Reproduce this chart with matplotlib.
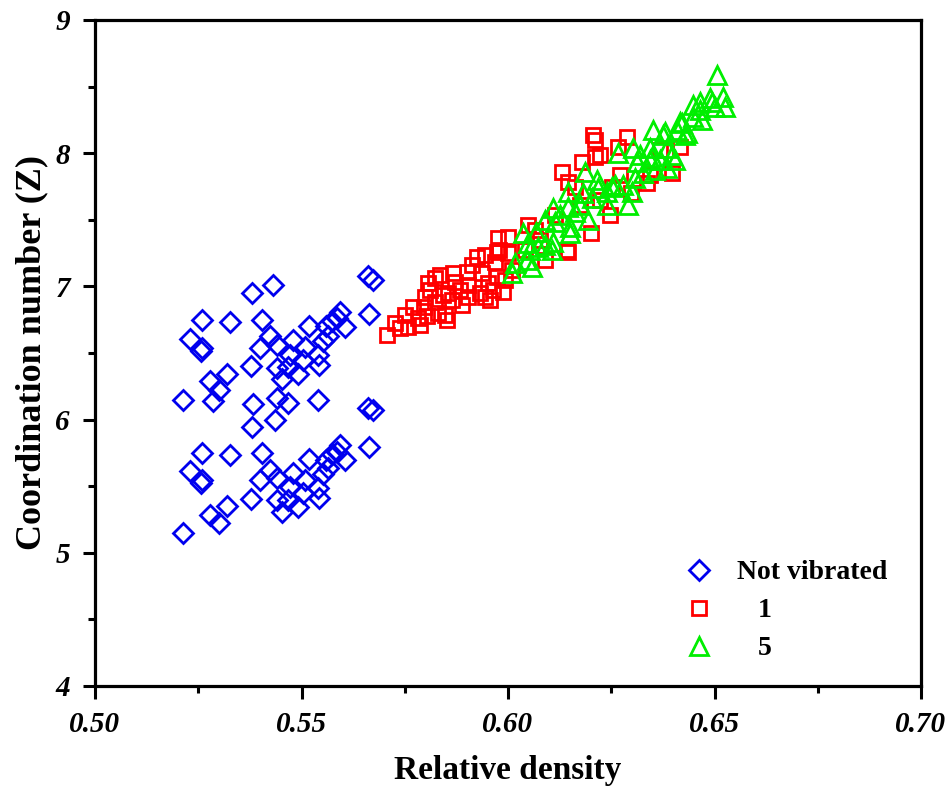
import matplotlib
matplotlib.use("Agg")
import matplotlib.pyplot as plt
from matplotlib.ticker import MultipleLocator

# ---- data: Not vibrated ----
nv_density = [0.5379, 0.5432, 0.5258, 0.5327, 0.5404, 0.5230, 0.5258, 0.5256, 0.5400, 0.5424,
              0.5378, 0.5278, 0.5320, 0.5301, 0.5214, 0.5285, 0.5383, 0.5440, 0.5662, 0.5672,
              0.5664, 0.5593, 0.5585, 0.5605, 0.5519, 0.5565, 0.5551, 0.5480, 0.5508, 0.5440,
              0.5472, 0.5541, 0.5543, 0.5504, 0.5468, 0.5492, 0.5452, 0.5541, 0.5468, 0.5440,
              0.5662, 0.5674, 0.5575, 0.5560,
              0.5379, 0.5436, 0.5258, 0.5327, 0.5404, 0.5230, 0.5258, 0.5256, 0.5400, 0.5424,
              0.5378, 0.5278, 0.5320, 0.5301, 0.5214, 0.5440, 0.5664, 0.5593, 0.5585, 0.5605,
              0.5519, 0.5565, 0.5551, 0.5480, 0.5508, 0.5440, 0.5472, 0.5541, 0.5543, 0.5504,
              0.5468, 0.5492, 0.5452, 0.5575, 0.5560]
nv_z = [6.950, 7.008, 6.750, 6.733, 6.750, 6.607, 6.538, 6.513, 6.538, 6.628,
        6.400, 6.288, 6.342, 6.224, 6.145, 6.137, 6.117, 6.387, 7.076, 7.050,
        6.793, 6.808, 6.763, 6.693, 6.700, 6.625, 6.588, 6.600, 6.543, 6.558,
        6.487, 6.483, 6.408, 6.450, 6.393, 6.342, 6.307, 6.149, 6.125, 6.162,
        6.087, 6.075, 6.740, 6.700,
        5.947, 5.997, 5.752, 5.734, 5.747, 5.616, 5.547, 5.522, 5.547, 5.622,
        5.402, 5.284, 5.351, 5.226, 5.146, 5.396, 5.797, 5.809, 5.759, 5.697,
        5.702, 5.634, 5.592, 5.601, 5.547, 5.559, 5.492, 5.484, 5.409, 5.451,
        5.396, 5.346, 5.309, 5.740, 5.700]

# ---- data: 1 vibration ----
v1_density = [0.5706, 0.5726, 0.5759, 0.5787, 0.5771, 0.5797, 0.5799, 0.5807, 0.5823, 0.5831,
              0.5847, 0.5852, 0.5835, 0.5855, 0.5872, 0.5868, 0.5900, 0.5904, 0.5904, 0.5924,
              0.5936, 0.5932, 0.5944, 0.5964, 0.5989, 0.5969, 0.5973, 0.5975, 0.6001, 0.5973,
              0.5823, 0.6207, 0.6211, 0.6287, 0.6267, 0.6211, 0.6178, 0.6130, 0.6146, 0.6271,
              0.6251, 0.6162, 0.6049, 0.5977, 0.6202, 0.6146, 0.6299, 0.6336, 0.6396, 0.6416,
              0.5751, 0.5782, 0.5811, 0.5864, 0.5884, 0.5889, 0.5913, 0.5952, 0.5993, 0.5956,
              0.5944, 0.5843, 0.5804, 0.5738, 0.6077, 0.6114, 0.6174, 0.6223, 0.6247, 0.6090,
              0.6041, 0.6065, 0.6223, 0.6142, 0.6001, 0.6010, 0.6344, 0.6368]
v1_z = [6.635, 6.723, 6.697, 6.710, 6.848, 6.848, 6.923, 7.023, 6.881, 6.798,
        6.785, 6.748, 7.086, 6.948, 7.035, 7.098, 7.110, 7.011, 6.923, 7.223,
        7.098, 6.948, 6.923, 6.973, 6.960, 7.185, 7.261, 7.366, 7.373, 7.073,
        7.061, 8.137, 8.099, 8.124, 8.049, 7.974, 7.936, 7.861, 7.786, 7.836,
        7.748, 7.748, 7.461, 7.273, 7.399, 7.261, 7.699, 7.774, 7.849, 8.049,
        6.785, 6.763, 6.973, 6.898, 6.973, 6.860, 7.161, 7.026, 7.048, 6.898,
        7.236, 6.935, 6.778, 6.688, 7.348, 7.536, 7.611, 7.649, 7.536, 7.198,
        7.273, 7.423, 7.986, 7.273, 7.249, 7.123, 7.836, 8.024]

# ---- data: 5 vibrations ----
v5_density = [0.6505, 0.6521, 0.6525, 0.6489, 0.6465, 0.6449, 0.6501, 0.6469, 0.6449, 0.6408,
              0.6421, 0.6380, 0.6352, 0.6429, 0.6384, 0.6344, 0.6303, 0.6267, 0.6312, 0.6344,
              0.6404, 0.6384, 0.6356, 0.6328, 0.6308, 0.6279, 0.6300, 0.6251, 0.6291, 0.6239,
              0.6186, 0.6215, 0.6146, 0.6182, 0.6203, 0.6239, 0.6110, 0.6146, 0.6174, 0.6114,
              0.6150, 0.6194, 0.6090, 0.6150, 0.6037, 0.6069, 0.6049, 0.6110, 0.6073, 0.6106,
              0.6017, 0.6045, 0.6057, 0.6009, 0.6368, 0.6396, 0.6348, 0.6259, 0.6493, 0.6416,
              0.6433, 0.6376, 0.6465, 0.6090, 0.6053, 0.6126, 0.6162, 0.6218, 0.6320]
v5_z = [8.587, 8.424, 8.349, 8.412, 8.387, 8.362, 8.349, 8.249, 8.274, 8.174,
        8.224, 8.161, 8.174, 8.137, 8.037, 8.037, 8.037, 7.999, 7.936, 7.949,
        7.949, 7.887, 7.874, 7.849, 7.812, 7.761, 7.711, 7.749, 7.611, 7.611,
        7.861, 7.799, 7.711, 7.699, 7.661, 7.711, 7.586, 7.598, 7.611, 7.486,
        7.448, 7.498, 7.498, 7.399, 7.399, 7.411, 7.324, 7.336, 7.298, 7.273,
        7.173, 7.198, 7.148, 7.098, 7.949, 7.986, 7.974, 7.761, 8.387, 8.236,
        8.149, 8.137, 8.324, 7.311, 7.273, 7.536, 7.559, 7.739, 7.986]

labels = ["Not vibrated", "   1", "   5"]

serif = ["Liberation Serif", "DejaVu Serif"]

fig = plt.figure(figsize=(9.53, 8.02), dpi=100)
ax = fig.add_axes([95 / 953, 1 - 686 / 802, (921 - 95) / 953, (686 - 20) / 802])

ax.plot(nv_density, nv_z, linestyle="none", marker="D", markersize=10.5,
        markerfacecolor="none", markeredgecolor="#0000ee", markeredgewidth=2.0, label=labels[0])
ax.plot(v1_density, v1_z, linestyle="none", marker="s", markersize=9.5,
        markerfacecolor="none", markeredgecolor="#ff0000", markeredgewidth=2.0, label=labels[1])
ax.plot(v5_density, v5_z, linestyle="none", marker="^", markersize=12.5,
        markerfacecolor="none", markeredgecolor="#00ee00", markeredgewidth=2.0, label=labels[2])

ax.set_xlim(0.50, 0.70)
ax.set_ylim(4, 9)
ax.xaxis.set_major_locator(MultipleLocator(0.05))
ax.xaxis.set_minor_locator(MultipleLocator(0.025))
ax.yaxis.set_major_locator(MultipleLocator(1))
ax.yaxis.set_minor_locator(MultipleLocator(0.5))

for s in ax.spines.values():
    s.set_linewidth(2.3)
ax.tick_params(which="major", direction="out", length=9, width=2.2, pad=9)
ax.tick_params(which="minor", direction="out", length=5, width=2.2)

ax.xaxis.set_major_formatter(plt.FuncFormatter(lambda v, p: f"{v:.2f}"))
ax.yaxis.set_major_formatter(plt.FuncFormatter(lambda v, p: f"{v:.0f}"))
for lab in ax.get_xticklabels() + ax.get_yticklabels():
    lab.set_family(serif)
    lab.set_fontweight("bold")
    lab.set_fontstyle("italic")
    lab.set_fontsize(21)

ax.set_xlabel("Relative density", family=serif, fontweight="bold", fontsize=24, labelpad=12)
ax.set_ylabel("Coordination number (Z)", family=serif, fontweight="bold", fontsize=26, labelpad=5)

leg = ax.legend(loc="upper left", bbox_to_anchor=(0.693, 0.21), frameon=False,
                prop={"family": serif, "weight": "bold", "size": 20},
                handletextpad=0.7, labelspacing=0.45, borderpad=0, handlelength=1.3)

fig.savefig("out.png", dpi=100)
